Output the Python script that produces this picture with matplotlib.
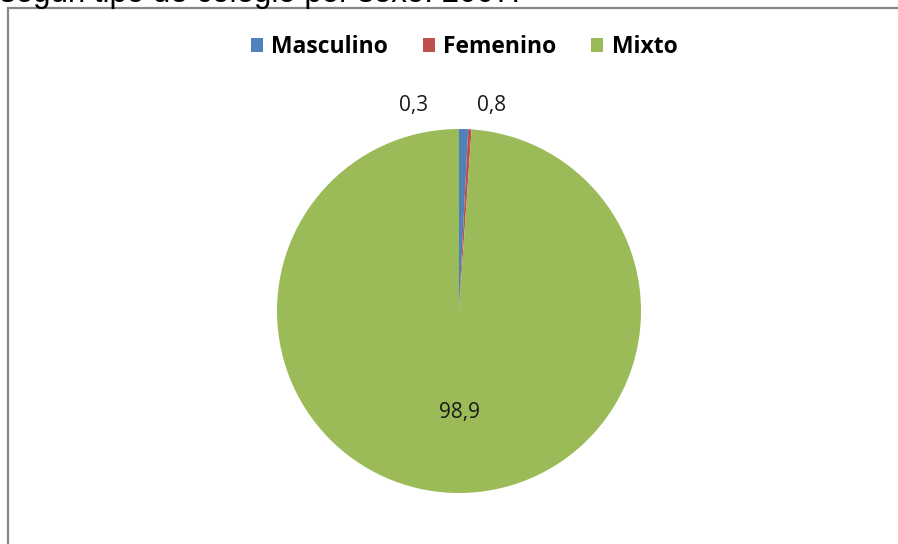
import matplotlib.pyplot as plt
from matplotlib.patches import Rectangle

# Pie data (percent of schools by type)
categories = ['Masculino', 'Femenino', 'Mixto']
values = [0.8, 0.3, 98.9]
colors = ['#4F81BD', '#C0504D', '#9BBB59']
title_tail = 'según tipo de colegio por sexo. 2007.'

W, H = 898, 544
fig = plt.figure(figsize=(W / 100, H / 100), dpi=100)

# clipped caption line at the very top
fig.text(0.0, 1 - 2 / H, title_tail, fontsize=22.5, family='Liberation Sans',
         ha='left', va='baseline', color='black')

# chart frame (right and bottom edges fall outside the picture)
fig.patches.append(Rectangle((7.5 / W, -0.1), 1.2, 1 - 8.5 / H + 0.1,
                             transform=fig.transFigure, fill=False,
                             edgecolor='#878787', linewidth=1.6))

# pie axes: centre (459, 311) px, radius 182 px
cx, cy, r = 459, 311, 182
ax = fig.add_axes([(cx - r) / W, (H - cy - r) / H, 2 * r / W, 2 * r / H])
wedges, _ = ax.pie(values, colors=colors, startangle=90, counterclock=False,
                   radius=1.0, wedgeprops=dict(linewidth=0))
ax.set_xlim(-1, 1)
ax.set_ylim(-1, 1)

# data labels
fmt = lambda v: f'{v:.1f}'.replace('.', ',')
label_pos = {'Masculino': (0.18, 1.13), 'Femenino': (-0.25, 1.13), 'Mixto': (0.0, -0.56)}
for cat, v in zip(categories, values):
    x, y = label_pos[cat]
    ax.text(x, y, fmt(v), ha='center', va='center', fontsize=15,
            family='Open Sans', color='#1a1a1a')

leg = fig.legend(wedges, categories, loc='center', ncol=3,
                 bbox_to_anchor=(464 / W, 1 - 47 / H), frameon=False,
                 handlelength=0.55, handleheight=0.55, handletextpad=0.35,
                 columnspacing=1.5,
                 prop=dict(family='Open Sans', weight='bold', size=16.5))

fig.savefig('out.png', dpi=100)
